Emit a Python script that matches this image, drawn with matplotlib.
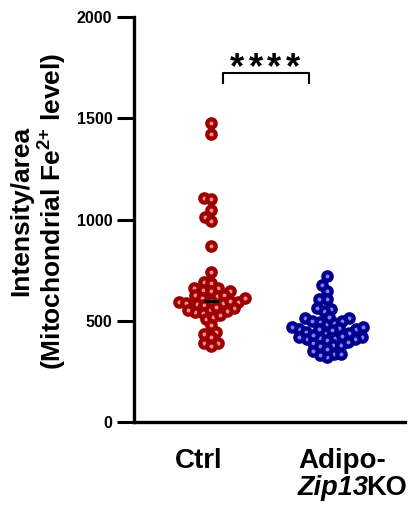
import numpy as np
import matplotlib.pyplot as plt

plt.rcParams['font.family'] = ['Liberation Sans', 'DejaVu Sans']
plt.rcParams['font.weight'] = 'bold'
plt.rcParams['mathtext.fontset'] = 'custom'
plt.rcParams['mathtext.rm'] = 'Liberation Sans:bold'
plt.rcParams['mathtext.bf'] = 'Liberation Sans:bold'
plt.rcParams['mathtext.default'] = 'bf'

# values
ctrl = [1478, 1422, 1105, 1101, 1047, 1014, 993, 869, 742, 691, 688, 663,
        652, 648, 660, 647, 624, 627, 627, 614, 593, 583, 589, 589, 578, 591,
        542, 553, 553, 561, 540, 550, 507, 520, 479, 435, 446, 418, 392, 392,
        375, 600, 610, 570, 530, 600]
ko = [723, 677, 648, 606, 606, 557, 548, 565, 512, 495, 484, 490, 512, 500,
      458, 446, 441, 458, 463, 458, 454, 413, 418, 405, 408, 418, 416, 408,
      392, 380, 375, 380, 334, 334, 319, 331, 470, 440, 430, 425, 395, 350,
      360, 500, 470, 520]
yticks = [0, 500, 1000, 1500, 2000]

fig = plt.figure(figsize=(4.17, 5.15), dpi=100)
ax = fig.add_axes([134/417, 1 - 422/515, (405 - 134)/417, (422 - 17)/515])
ax.set_xlim(-0.664, 1.673)
ax.set_ylim(0, 2000)


# simple beeswarm, works in pixels; diam smaller than the dot so they overlap a bit
def swarm(values, center, diam):
    vals = np.array(values, dtype=float)
    pts = ax.transData.transform(np.column_stack([np.full(len(vals), center), vals]))
    cx = pts[0, 0]
    xs = np.zeros(len(vals))
    placed = []
    for i in np.argsort(vals):
        y = pts[i, 1]
        near = [(px, py) for px, py in placed if abs(py - y) < diam]
        cands = [cx]
        for px, py in near:
            dx = np.sqrt(diam**2 - (py - y)**2)
            cands += [px - dx, px + dx]
        cands.sort(key=lambda c: abs(c - cx))
        for c in cands:
            if all((c - px)**2 + (y - py)**2 >= diam**2 - 1e-6 for px, py in near):
                break
        placed.append((c, y))
        xs[i] = c
    return ax.transData.inverted().transform(np.column_stack([xs, pts[:, 1]]))[:, 0]


x_ctrl = swarm(ctrl, 0, 7.5)
x_ko = swarm(ko, 1, 7.5)

ax.plot([0.85, 1.15], [np.median(ko)] * 2, color='black', lw=2, zorder=1)
ax.scatter(x_ctrl, ctrl, s=6.0**2, facecolor='#ff8c8c', edgecolor='#9c0000',
           linewidths=3.1, zorder=3)
ax.scatter(x_ko, ko, s=6.0**2, facecolor='#8080ff', edgecolor='#00008c',
           linewidths=3.1, zorder=3)
ax.plot([-0.05, 0.05], [np.median(ctrl)] * 2, color='black', lw=2, zorder=4)

# significance bracket + stars
ax.plot([0.10, 0.10, 0.845, 0.845], [1674, 1723, 1723, 1674], color='black',
        lw=1.5, clip_on=False)
for k in range(4):
    ax.annotate('*', xy=(0.465, 1745), xytext=((k - 1.5) * 13.3, 0),
                textcoords='offset points', ha='center', va='center',
                fontsize=26)

# axes styling
for s in ['top', 'right']:
    ax.spines[s].set_visible(False)
ax.spines['left'].set_linewidth(2.4)
ax.spines['bottom'].set_linewidth(2.4)
ax.set_yticks(yticks)
ax.tick_params(axis='y', length=12, width=2.2, pad=3.5, labelsize=11.5)
ax.set_xticks([])

fig.text(199/417, 1 - 468/515, 'Ctrl', ha='center', va='baseline', fontsize=20)
fig.text(298/417, 1 - 468/515, 'Adipo-', ha='left', va='baseline', fontsize=20)
zip_txt = fig.text(298/417, 1 - 495/515, 'Zip13', ha='left', va='baseline',
                   fontsize=19.5, style='italic')
ax.annotate('KO', xy=(1, 0), xycoords=zip_txt, xytext=(-2, 0),
            textcoords='offset points', ha='left', va='bottom', fontsize=19.5,
            annotation_clip=False)

fig.text(39/417, 1 - 211/515,
         'Intensity/area\n(Mitochondrial Fe$^{2{+}}$ level)',
         rotation=90, ha='center', va='center', fontsize=19, linespacing=1.15)

fig.savefig('out.png', dpi=100)
